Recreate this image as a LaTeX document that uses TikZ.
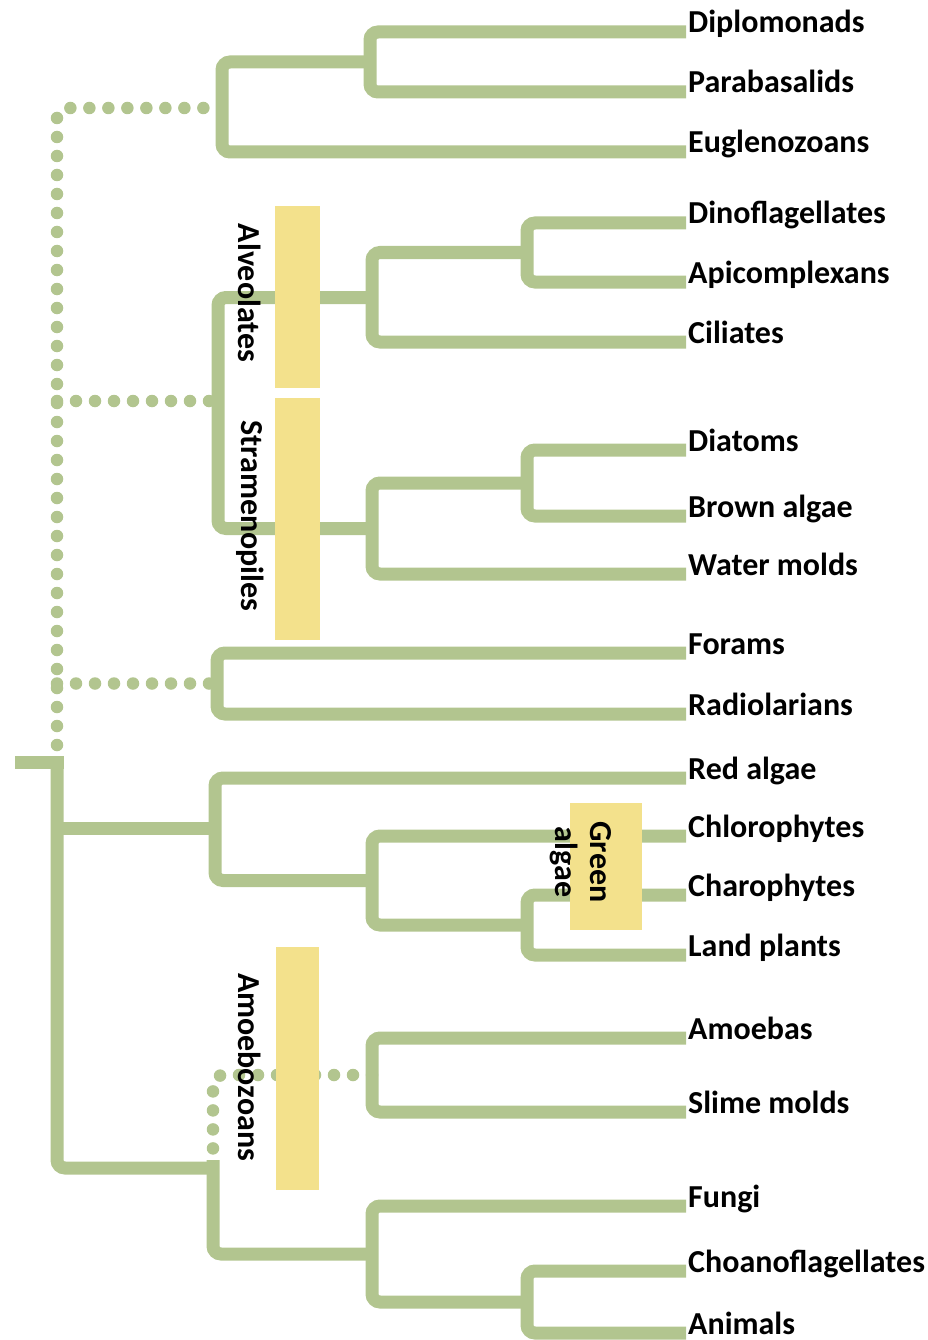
\documentclass[tikz,border=0pt]{standalone}
\usepackage{fontspec}
\setmainfont{Carlito}
\definecolor{brgreen}{HTML}{B2C58F}
\definecolor{bandyellow}{HTML}{F3E18C}
\tikzset{
  br/.style={draw=brgreen, line width=13pt, rounded corners=8pt},
  dotline/.style={draw=brgreen, line width=12.5pt, line cap=round, dash pattern=on 0pt off 19pt, rounded corners=10pt},
  band/.style={fill=bandyellow, draw=none},
  leaf/.style={anchor=base west, inner sep=0pt, font=\fontsize{32}{36}\selectfont\bfseries},
  grp/.style={rotate=-90, inner sep=0pt, align=center, font=\fontsize{32}{35}\selectfont\bfseries}
}
\begin{document}
\begin{tikzpicture}[x=1pt,y=-1pt]
\useasboundingbox (0,0) rectangle (928,1340);
% leaf ends
\coordinate (dip) at (686,32);
\coordinate (par) at (686,92);
\coordinate (eug) at (686,152);
\coordinate (din) at (686,223);
\coordinate (api) at (686,282);
\coordinate (cil) at (686,342);
\coordinate (dia) at (686,450);
\coordinate (bro) at (686,516);
\coordinate (wat) at (686,574);
\coordinate (for) at (686,653);
\coordinate (rad) at (686,714);
\coordinate (red) at (686,778);
\coordinate (chl) at (686,836);
\coordinate (cha) at (686,895);
\coordinate (lan) at (686,955);
\coordinate (amo) at (686,1038);
\coordinate (sli) at (686,1112);
\coordinate (fun) at (686,1206);
\coordinate (cho) at (686,1271);
\coordinate (ani) at (686,1333);
% internal nodes
\coordinate (nDP) at (370,62);
\coordinate (nExc) at (222,108);
\coordinate (nDA) at (527,252.5);
\coordinate (nAlv) at (372,297.5);
\coordinate (nDB) at (527,483);
\coordinate (nStr) at (372,528.5);
\coordinate (nSAR) at (218,401);
\coordinate (nRhi) at (217,683.5);
\coordinate (stub) at (15,762);
\coordinate (rt) at (57,762);
\coordinate (rootA) at (57,828);
\coordinate (nArch) at (215,828);
\coordinate (nGreen) at (372,880.5);
\coordinate (nCL) at (527,925);
\coordinate (uniJ) at (213,1168);
\coordinate (uniTop) at (213,1160);
\coordinate (nAmo) at (372,1075);
\coordinate (nOpi) at (372,1254);
\coordinate (nCA) at (527,1302);
\coordinate (dEnd) at (57,745);
\coordinate (dSAR) at (57,401);
\coordinate (dRhi) at (57,683.5);

% dotted (uncertain) connections
\draw[dotline] (dEnd) |- (nExc);
\draw[dotline] (dSAR) -- (nSAR);
\draw[dotline] (dRhi) -- (nRhi);
\draw[dotline] (nAmo) -| (uniTop);

% solid branches
\draw[br] (dip) -| (nDP) |- (par);
\draw[br] (nDP) -| (nExc) |- (eug);
\draw[br] (din) -| (nDA) |- (api);
\draw[br] (nDA) -| (nAlv) |- (cil);
\draw[br] (nAlv) -| (nSAR) |- (nStr);
\draw[br] (dia) -| (nDB) |- (bro);
\draw[br] (nDB) -| (nStr) |- (wat);
\draw[br] (for) -| (nRhi) |- (rad);
\draw[br] (stub) -- ([xshift=6.5pt]rt);
\draw[br] (rt) |- (uniJ);
\draw[br] (rootA) -- (nArch);
\draw[br] (red) -| (nArch) |- (nGreen);
\draw[br] (chl) -| (nGreen) |- (nCL);
\draw[br] (cha) -| (nCL) |- (lan);
\draw[br] (amo) -| (nAmo) |- (sli);
\draw[br] (uniTop) |- (nOpi);
\draw[br] (fun) -| (nOpi) |- (nCA);
\draw[br] (cho) -| (nCA) |- (ani);

% group bands
\path[band] (275,206) rectangle (320,388);
\path[band] (275,398) rectangle (320,640);
\path[band] (570,803) rectangle (642,930);
\path[band] (276,947) rectangle (319,1190);

% group labels
\node[grp] (gAlv) at (250,293) {Alveolates};
\node[grp] (gStr) at (250,516) {Stramenopiles};
\node[grp] (gAmo) at (250,1067) {Amoebozoans};
\node[grp] (gGreen) at (581,862) {Green\\algae};

% leaf labels
\node[leaf] (tdip) at ([xshift=2pt,yshift=-1pt]dip) {Diplomonads};
\node[leaf] (tpar) at ([xshift=2pt,yshift=-1pt]par) {Parabasalids};
\node[leaf] (teug) at ([xshift=2pt,yshift=-1pt]eug) {Euglenozoans};
\node[leaf] (tdin) at ([xshift=2pt,yshift=-1pt]din) {Dinoflagellates};
\node[leaf] (tapi) at ([xshift=2pt,yshift=-1pt]api) {Apicomplexans};
\node[leaf] (tcil) at ([xshift=2pt,yshift=-1pt]cil) {Ciliates};
\node[leaf] (tdia) at ([xshift=2pt,yshift=-1pt]dia) {Diatoms};
\node[leaf] (tbro) at ([xshift=2pt,yshift=-1pt]bro) {Brown algae};
\node[leaf] (twat) at ([xshift=2pt,yshift=-1pt]wat) {Water molds};
\node[leaf] (tfor) at ([xshift=2pt,yshift=-1pt]for) {Forams};
\node[leaf] (trad) at ([xshift=2pt,yshift=-1pt]rad) {Radiolarians};
\node[leaf] (tred) at ([xshift=2pt,yshift=-1pt]red) {Red algae};
\node[leaf] (tchl) at ([xshift=2pt,yshift=-1pt]chl) {Chlorophytes};
\node[leaf] (tcha) at ([xshift=2pt,yshift=-1pt]cha) {Charophytes};
\node[leaf] (tlan) at ([xshift=2pt,yshift=-1pt]lan) {Land plants};
\node[leaf] (tamo) at ([xshift=2pt,yshift=-1pt]amo) {Amoebas};
\node[leaf] (tsli) at ([xshift=2pt,yshift=-1pt]sli) {Slime molds};
\node[leaf] (tfun) at ([xshift=2pt,yshift=-1pt]fun) {Fungi};
\node[leaf] (tcho) at ([xshift=2pt,yshift=-1pt]cho) {Choanoflagellates};
\node[leaf] (tani) at ([xshift=2pt,yshift=-1pt]ani) {Animals};
\end{tikzpicture}
\end{document}
